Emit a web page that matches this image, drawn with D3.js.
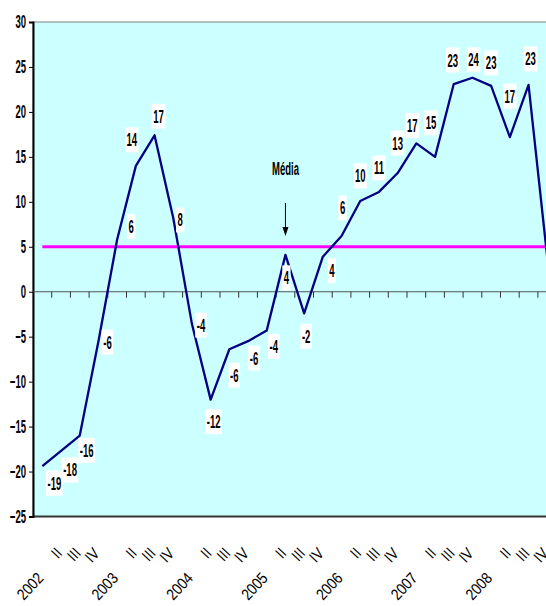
<!DOCTYPE html>
<html lang="pt">
<head>
  <meta charset="UTF-8" />
  <title>Média</title>
  <script src="https://d3js.org/d3.v7.min.js"></script>
  <style>
    body { margin: 0; background: #fff; }
    svg { display: block; }
    .lbl { font-family: "Liberation Sans Narrow", "Arial Narrow", "Liberation Sans", sans-serif; font-weight: bold; }
    .cat { font-family: "Liberation Sans Narrow", "Arial Narrow", "Liberation Sans", sans-serif; }
  </style>
</head>
<body>
<svg id="chart" width="546" height="606"></svg>
<script>
// quarters 2002 I .. 2008 IV
const categories = ["2002","II","III","IV","2003","II","III","IV","2004","II","III","IV",
  "2005","II","III","IV","2006","II","III","IV","2007","II","III","IV","2008","II","III","IV"];
const values = [-19.4,-17.7,-16,-5.5,5.8,14,17.4,8.2,-3.6,-12,-6.4,-5.5,-4.3,4.1,-2.4,3.9,
  6.2,10.1,11.1,13.2,16.5,15,23.1,23.8,22.9,17.2,23,3.8];
const valueLabels = ["-19","-18","-16","-6","6","14","17","8","-4","-12","-6","-6","-4","4","-2","4",
  "6","10","11","13","17","15","23","24","23","17","23",""];
const media = 5;
const yTicks = [-25,-20,-15,-10,-5,0,5,10,15,20,25,30];

// label placement (pixel offsets from each point), hand tuned like the original
const labelOffsets = [[12,17],[9,19],[7,15],[9,1],[14,-13],[-4,-26],[4,-19],[7,2],[9,1],[3,22],
  [5,26],[6,17],[7,16],[1,23],[2,23],[9,14],[1,-28],[0,-25],[0,-24],[0,-30],[-4,-18],[-4,-34],
  [-1,-24],[1,-18],[0,-23],[0,-41],[2,-26],[0,0]];

const svg = d3.select("#chart");
const mLeft = 33, mTop = 22, mBottom = 516.5, step = 18.7;

// the original type is tall and very condensed: squeeze so a digit is ~5.3px wide
const probe = svg.append("text").attr("class", "lbl").style("font-size", "18px").text("0000");
const sx = 5.3 * 4 / probe.node().getComputedTextLength();
probe.remove();

const x = d3.scaleBand().domain(d3.range(categories.length))
  .range([mLeft, mLeft + step * categories.length]);
const y = d3.scaleLinear().domain([-25, 30]).range([mBottom, mTop]);
const cx = i => x(i) + x.bandwidth() / 2;

// plot area
svg.append("rect")
  .attr("x", mLeft).attr("y", mTop)
  .attr("width", 546 - mLeft + 20).attr("height", mBottom - mTop)
  .attr("fill", "#ccffff").attr("stroke", "#808080").attr("stroke-width", 1);
svg.append("line")
  .attr("x1", mLeft).attr("x2", 546).attr("y1", mBottom).attr("y2", mBottom)
  .attr("stroke", "#333").attr("stroke-width", 2);

// y axis
const yAxis = svg.append("g")
  .attr("transform", `translate(${mLeft},0)`)
  .call(d3.axisLeft(y).tickValues(yTicks).tickSize(4).tickPadding(3));
yAxis.select(".domain").attr("stroke", "#000").attr("stroke-width", 2);
yAxis.selectAll(".tick line").attr("stroke", "#000");
yAxis.selectAll("text")
  .attr("class", "lbl")
  .style("font-size", "18px")
  .attr("fill", "#000")
  .attr("transform", `scale(${sx},1)`)
  .attr("x", -7 / sx);

// zero line with ticks at category boundaries
svg.append("line")
  .attr("x1", mLeft).attr("x2", 546).attr("y1", y(0)).attr("y2", y(0))
  .attr("stroke", "#555").attr("stroke-width", 1.2);
svg.append("g").selectAll("line")
  .data(d3.range(1, categories.length))
  .join("line")
  .attr("x1", i => x(i)).attr("x2", i => x(i))
  .attr("y1", y(0)).attr("y2", y(0) + 6)
  .attr("stroke", "#333").attr("stroke-width", 1);

// category labels
svg.append("g").selectAll("text")
  .data(categories)
  .join("text")
  .attr("class", "cat")
  .attr("text-anchor", "end")
  .style("font-size", "16px")
  .attr("transform", (d, i) => `translate(${cx(i) + 2},${d.length === 4 ? 579 : 554}) rotate(-47) scale(0.85,1)`)
  .text(d => d);

// média line
svg.append("line")
  .attr("x1", cx(0)).attr("x2", 546)
  .attr("y1", y(media)).attr("y2", y(media))
  .attr("stroke", "#ff00ff").attr("stroke-width", 3);

// series line
svg.append("path")
  .datum(values)
  .attr("fill", "none")
  .attr("stroke", "#000080")
  .attr("stroke-width", 2.3)
  .attr("stroke-linejoin", "round")
  .attr("d", d3.line().x((d, i) => cx(i)).y(d => y(d)));

// data labels with white boxes
const labels = svg.append("g").selectAll("g")
  .data(values.map((v, i) => ({v, i, t: valueLabels[i]})).filter(d => d.t !== ""))
  .join("g")
  .attr("transform", d => `translate(${cx(d.i) + labelOffsets[d.i][0]},${y(d.v) + labelOffsets[d.i][1]})`);
const boxes = labels.append("rect")
  .attr("y", -12.5)
  .attr("height", 25)
  .attr("fill", "#fff");
labels.append("text")
  .attr("class", "lbl")
  .attr("text-anchor", "middle")
  .attr("dy", "0.36em")
  .style("font-size", "18px")
  .attr("transform", `scale(${sx},1)`)
  .text(d => d.t)
  .each(function() {
    const w = this.getComputedTextLength() * sx + 3;
    d3.select(this.parentNode).select("rect").attr("x", -w / 2).attr("width", w);
  });

// annotation
const ax = cx(13);
svg.append("text")
  .attr("class", "lbl")
  .attr("text-anchor", "middle")
  .style("font-size", "18px")
  .attr("transform", `translate(${ax},175) scale(${sx},1)`)
  .text("Média");
svg.append("line")
  .attr("x1", ax).attr("x2", ax).attr("y1", 203).attr("y2", 228)
  .attr("stroke", "#000").attr("stroke-width", 1);
svg.append("path")
  .attr("d", `M${ax - 3},227 L${ax + 3},227 L${ax},236 Z`)
  .attr("fill", "#000");
</script>
</body>
</html>
